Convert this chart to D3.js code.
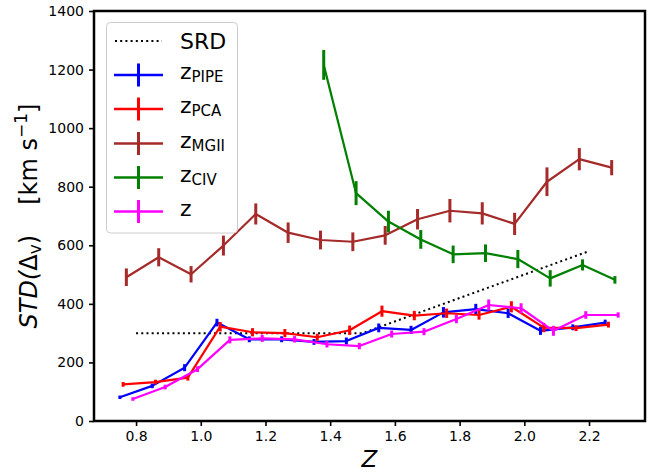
<!DOCTYPE html>
<html>
<head>
<meta charset="utf-8">
<script src="https://cdn.jsdelivr.net/npm/d3@7"></script>
<style>
  body { margin: 0; background: #fff; }
  svg { display: block; }
</style>
</head>
<body>
<svg id="chart" width="665" height="474"></svg>
<script>
// redshift bin centres (each estimator is shifted a little)
const xPipe = [0.75, 0.85, 0.95, 1.05, 1.15, 1.25, 1.35, 1.45, 1.55, 1.65, 1.75, 1.85, 1.95, 2.05, 2.15, 2.25];
const xPca  = [0.76, 0.86, 0.96, 1.06, 1.16, 1.26, 1.36, 1.46, 1.56, 1.66, 1.76, 1.86, 1.96, 2.06, 2.16, 2.26];
const xMgii = [0.77, 0.87, 0.97, 1.07, 1.17, 1.27, 1.37, 1.47, 1.57, 1.67, 1.77, 1.87, 1.97, 2.07, 2.17, 2.27];
const xCiv  = [1.38, 1.48, 1.58, 1.68, 1.78, 1.88, 1.98, 2.08, 2.18, 2.28];
const xZ    = [0.79, 0.89, 0.99, 1.09, 1.19, 1.29, 1.39, 1.49, 1.59, 1.69, 1.79, 1.89, 1.99, 2.09, 2.19, 2.29];

// STD(dv) in km/s and its error
const stdPipe = [81, 120, 182, 336, 279, 279, 270, 273, 318, 311, 371, 382, 368, 308, 320, 336];
const errPipe = [6, 8, 12, 13, 10, 10, 10, 12, 15, 14, 18, 18, 16, 14, 10, 10];
const stdPca  = [125, 133, 148, 322, 303, 300, 286, 310, 375, 360, 368, 362, 390, 319, 317, 329];
const errPca  = [8, 8, 10, 16, 14, 14, 12, 16, 19, 16, 16, 16, 19, 16, 10, 10];
const stdMgii = [491, 559, 501, 599, 707, 643, 618, 612, 634, 689, 718, 709, 673, 817, 894, 865];
const errMgii = [30, 31, 28, 34, 36, 35, 32, 32, 32, 35, 40, 38, 38, 49, 38, 26];
const stdCiv  = [1216, 778, 681, 620, 569, 573, 553, 487, 533, 482];
const errCiv  = [51, 41, 37, 32, 30, 30, 31, 28, 19, 13];
const stdZ    = [75, 116, 177, 277, 282, 279, 262, 256, 297, 305, 348, 396, 385, 308, 362, 362];
const errZ    = [6, 8, 10, 12, 12, 11, 11, 11, 12, 12, 14, 19, 17, 17, 13, 9];

// SRD requirement
const srdZ   = [0.8, 1.5, 2.2];
const srdStd = [300, 300, 580];

const xTicks = [0.8, 1.0, 1.2, 1.4, 1.6, 1.8, 2.0, 2.2];
const yTicks = [0, 200, 400, 600, 800, 1000, 1200, 1400];

const series = [
  { xs: xPipe, ys: stdPipe, errs: errPipe, color: "#0000ff", sub: "PIPE" },
  { xs: xPca,  ys: stdPca,  errs: errPca,  color: "#ff0000", sub: "PCA" },
  { xs: xMgii, ys: stdMgii, errs: errMgii, color: "#a52a2a", sub: "MGII" },
  { xs: xCiv,  ys: stdCiv,  errs: errCiv,  color: "#008000", sub: "CIV" },
  { xs: xZ,    ys: stdZ,    errs: errZ,    color: "#ff00ff", sub: null }
];

const font = "DejaVu Sans";
let svg = d3.select("#chart");

let plotLeft = 94, plotRight = 645, plotTop = 11, plotBottom = 421;

let x = d3.scaleLinear()
  .domain([0.67, 2.373])
  .range([plotLeft, plotRight]);
let y = d3.scaleLinear()
  .domain([0, 1400])
  .range([plotBottom, plotTop]);

svg.append("defs").append("clipPath")
  .attr("id", "plotClip")
  .append("rect")
  .attr("x", plotLeft).attr("y", plotTop)
  .attr("width", plotRight - plotLeft).attr("height", plotBottom - plotTop);

let plot = svg.append("g").attr("clip-path", "url(#plotClip)");

// SRD dotted line
let line = d3.line().x(d => x(d[0])).y(d => y(d[1]));
plot.append("path")
  .attr("d", line(srdZ.map((z, i) => [z, srdStd[i]])))
  .attr("fill", "none")
  .attr("stroke", "#000")
  .attr("stroke-width", 2)
  .attr("stroke-dasharray", "2,3.2");

// each estimator: line plus error bars
series.forEach(s => {
  let pts = s.xs.map((z, i) => [z, s.ys[i], s.errs[i]]);
  let g = plot.append("g");
  g.append("path")
    .attr("d", line(pts))
    .attr("fill", "none")
    .attr("stroke", s.color)
    .attr("stroke-width", 2.2)
    .attr("stroke-linejoin", "round");
  g.selectAll("line")
    .data(pts)
    .enter()
    .append("line")
    .attr("x1", d => x(d[0]))
    .attr("x2", d => x(d[0]))
    .attr("y1", d => y(d[1] - d[2]))
    .attr("y2", d => y(d[1] + d[2]))
    .attr("stroke", s.color)
    .attr("stroke-width", 3);
});

// add x-axis
let xAxis = svg.append("g")
  .attr("transform", "translate(0," + plotBottom + ")")
  .style("font-family", font)
  .style("font-size", "14px")
  .call(d3.axisBottom(x).tickValues(xTicks).tickFormat(d3.format(".1f")).tickSize(5).tickPadding(5))
  .call(g => g.select(".domain").remove());
xAxis.selectAll(".tick line").attr("stroke-width", 1.6);
xAxis.selectAll(".tick text").attr("fill", "#000");

// add y-axis
let yAxis = svg.append("g")
  .attr("transform", "translate(" + plotLeft + ",0)")
  .style("font-family", font)
  .style("font-size", "14px")
  .call(d3.axisLeft(y).tickValues(yTicks).tickFormat(d3.format("d")).tickSize(5).tickPadding(5))
  .call(g => g.select(".domain").remove());
yAxis.selectAll(".tick line").attr("stroke-width", 1.6);
yAxis.selectAll(".tick text").attr("fill", "#000");

// frame
svg.append("rect")
  .attr("x", plotLeft).attr("y", plotTop)
  .attr("width", plotRight - plotLeft).attr("height", plotBottom - plotTop)
  .attr("fill", "none")
  .attr("stroke", "#000")
  .attr("stroke-width", 2.5);

// axis labels
svg.append("text")
  .attr("x", (plotLeft + plotRight) / 2)
  .attr("y", 467)
  .attr("text-anchor", "middle")
  .style("font-family", font)
  .style("font-style", "italic")
  .style("font-size", "23px")
  .text("Z");

let yLab = svg.append("text")
  .attr("transform", "translate(37," + ((plotTop + plotBottom) / 2) + ") rotate(-90)")
  .attr("text-anchor", "middle")
  .style("font-family", font)
  .style("font-size", "24px");
yLab.append("tspan").style("font-style", "italic").text("STD(");
yLab.append("tspan").text("Δ");
yLab.append("tspan").attr("dy", 4).style("font-size", "17px").text("v");
yLab.append("tspan").attr("dy", -4).text(")");
yLab.append("tspan").attr("dx", 30).text("[km s");
yLab.append("tspan").attr("dy", -10).style("font-size", "17px").text("−1");
yLab.append("tspan").attr("dy", 10).text("]");

// legend
let legend = svg.append("g");
legend.append("rect")
  .attr("x", 106.5).attr("y", 22.5)
  .attr("width", 131).attr("height", 210.5)
  .attr("rx", 4)
  .attr("fill", "#fff")
  .attr("fill-opacity", 0.85)
  .attr("stroke", "#cccccc")
  .attr("stroke-width", 1);

let rowY = [41, 75, 109, 143.5, 177.5, 211.5];
legend.append("line")
  .attr("x1", 115).attr("x2", 162)
  .attr("y1", rowY[0]).attr("y2", rowY[0])
  .attr("stroke", "#000")
  .attr("stroke-width", 2)
  .attr("stroke-dasharray", "2,3.2");
legend.append("text")
  .attr("x", 180).attr("y", rowY[0] + 8)
  .style("font-family", font)
  .style("font-size", "22px")
  .text("SRD");

series.forEach((s, i) => {
  let yy = rowY[i + 1];
  legend.append("line")
    .attr("x1", 114).attr("x2", 163)
    .attr("y1", yy).attr("y2", yy)
    .attr("stroke", s.color)
    .attr("stroke-width", 2.5);
  legend.append("line")
    .attr("x1", 138.5).attr("x2", 138.5)
    .attr("y1", yy - 11.5).attr("y2", yy + 11.5)
    .attr("stroke", s.color)
    .attr("stroke-width", 3);
  let t = legend.append("text")
    .attr("x", 180).attr("y", yy + 4)
    .style("font-family", font)
    .style("font-size", "22px");
  t.append("tspan").text("z");
  if (s.sub) {
    t.append("tspan").attr("dy", 3).style("font-size", "15px").text(s.sub);
  }
});
</script>
</body>
</html>
